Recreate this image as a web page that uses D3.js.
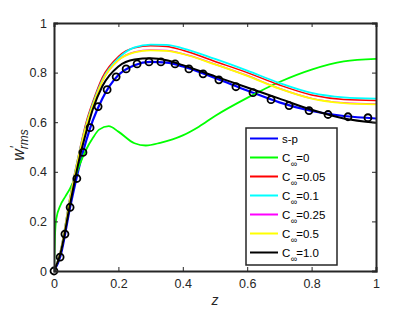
<!DOCTYPE html>
<html>
<head>
<meta charset="utf-8">
<script src="https://cdn.jsdelivr.net/npm/d3@7"></script>
<style>
  body { margin: 0; background: #fff; }
  svg text { font-family: "Liberation Sans", Arial, sans-serif; }
</style>
</head>
<body>
<div id="chart"></div>
<script>
// shared z grid for most curves
var zGrid = [0, 0.02, 0.05, 0.08, 0.1, 0.12, 0.15, 0.2, 0.25, 0.3, 0.35, 0.4, 0.5, 0.6, 0.7, 0.8, 0.9, 1.0];

var sp    = [0, 0.06, 0.257, 0.43, 0.525, 0.605, 0.695, 0.79, 0.83, 0.843, 0.84, 0.825, 0.778, 0.728, 0.68, 0.645, 0.625, 0.615];
var c005  = [0, 0.08, 0.30, 0.49, 0.60, 0.68, 0.78, 0.865, 0.90, 0.908, 0.905, 0.89, 0.845, 0.80, 0.75, 0.71, 0.692, 0.688];
var c01   = [0, 0.078, 0.295, 0.485, 0.59, 0.672, 0.77, 0.858, 0.902, 0.913, 0.912, 0.898, 0.855, 0.808, 0.758, 0.718, 0.70, 0.695];
var c025  = [0, 0.076, 0.29, 0.48, 0.585, 0.665, 0.765, 0.85, 0.883, 0.891, 0.889, 0.876, 0.834, 0.788, 0.736, 0.696, 0.678, 0.673];
var c05   = [0, 0.075, 0.29, 0.48, 0.585, 0.665, 0.765, 0.85, 0.882, 0.89, 0.888, 0.875, 0.833, 0.787, 0.735, 0.695, 0.677, 0.672];
var c10   = [0, 0.07, 0.27, 0.46, 0.56, 0.65, 0.745, 0.825, 0.853, 0.858, 0.85, 0.83, 0.785, 0.74, 0.695, 0.65, 0.615, 0.598];

// C_inf = 0 has its own sampling
var zGreen = [0, 0.003, 0.007, 0.02, 0.035, 0.05, 0.065, 0.08, 0.1, 0.12, 0.14, 0.17, 0.2, 0.25, 0.285, 0.33, 0.4, 0.45, 0.5, 0.6, 0.7, 0.8, 0.9, 1.0];
var c0     = [0, 0.14, 0.21, 0.265, 0.3, 0.333, 0.377, 0.43, 0.49, 0.535, 0.57, 0.584, 0.562, 0.515, 0.506, 0.517, 0.547, 0.582, 0.625, 0.698, 0.762, 0.812, 0.845, 0.855];

// circle markers
var zMark = [0, 0.019, 0.034, 0.05, 0.071, 0.09, 0.112, 0.137, 0.165, 0.193, 0.224, 0.258, 0.295, 0.332, 0.376, 0.419, 0.463, 0.512, 0.565, 0.618, 0.674, 0.730, 0.792, 0.851, 0.913, 0.975];
var vMark = [0, 0.056, 0.149, 0.257, 0.373, 0.478, 0.578, 0.663, 0.731, 0.783, 0.815, 0.835, 0.843, 0.843, 0.835, 0.815, 0.795, 0.771, 0.743, 0.719, 0.691, 0.667, 0.647, 0.631, 0.622, 0.618];

var xTicks = [0, 0.2, 0.4, 0.6, 0.8, 1];
var yTicks = [0, 0.2, 0.4, 0.6, 0.8, 1];

var series = [
  {name: "s-p",  sub: "",    z: zGrid,  v: sp,   color: "#0000ff", w: 2.2},
  {name: "C",    sub: "=0",    z: zGreen, v: c0,   color: "#00ff00", w: 1.8},
  {name: "C",    sub: "=0.05", z: zGrid,  v: c005, color: "#ff0000", w: 1.5},
  {name: "C",    sub: "=0.1",  z: zGrid,  v: c01,  color: "#00ffff", w: 1.8},
  {name: "C",    sub: "=0.25", z: zGrid,  v: c025, color: "#ff00ff", w: 1.5},
  {name: "C",    sub: "=0.5",  z: zGrid,  v: c05,  color: "#ffff00", w: 1.8},
  {name: "C",    sub: "=1.0",  z: zGrid,  v: c10,  color: "#000000", w: 2.0}
];

var width = 415, height = 312;
var margin = {top: 23, right: 39, bottom: 41, left: 54};
var w = width - margin.left - margin.right,
    h = height - margin.top - margin.bottom;

var svg = d3.select("#chart").append("svg")
    .attr("width", width)
    .attr("height", height);

var g = svg.append("g")
    .attr("transform", "translate(" + margin.left + "," + margin.top + ")");

var x = d3.scaleLinear().domain([0, 1]).range([0, w]);
var y = d3.scaleLinear().domain([0, 1]).range([h, 0]);

var line = d3.line()
    .x(function(d) { return x(d[0]); })
    .y(function(d) { return y(d[1]); })
    .curve(d3.curveMonotoneX);

var clip = g.append("clipPath").attr("id", "clip")
    .append("rect").attr("width", w).attr("height", h);

var plot = g.append("g").attr("clip-path", "url(#clip)");

series.forEach(function(s) {
  var pts = s.z.map(function(z, i) { return [z, s.v[i]]; });
  plot.append("path")
      .datum(pts)
      .attr("d", line)
      .attr("fill", "none")
      .attr("stroke", s.color)
      .attr("stroke-width", s.w)
      .attr("stroke-linejoin", "round");
});

g.selectAll("circle.mk")
    .data(zMark)
    .enter()
    .append("circle")
    .attr("class", "mk")
    .attr("cx", function(d) { return x(d); })
    .attr("cy", function(d, i) { return y(vMark[i]); })
    .attr("r", 3.5)
    .attr("fill", "none")
    .attr("stroke", "#000")
    .attr("stroke-width", 1.8);

// axes (ticks inside, box on)
var axisColor = "#262626";
var xb = d3.axisBottom(x).tickValues(xTicks).tickSize(-4).tickPadding(8)
    .tickFormat(function(d) { return d; });
var yl = d3.axisLeft(y).tickValues(yTicks).tickSize(-4).tickPadding(7)
    .tickFormat(function(d) { return d; });
var xt = d3.axisTop(x).tickValues(xTicks).tickSize(-4).tickFormat("");
var yr = d3.axisRight(y).tickValues(yTicks).tickSize(-4).tickFormat("");

function styleAxis(sel) {
  sel.select(".domain").attr("stroke", axisColor).attr("stroke-width", 2);
  sel.selectAll(".tick line").attr("stroke", axisColor).attr("stroke-width", 1);
  sel.selectAll(".tick text").attr("fill", axisColor).attr("font-size", 12.5)
     .attr("font-family", "Liberation Sans, Arial, sans-serif");
}

g.append("g").attr("transform", "translate(0," + h + ")").call(xb).call(styleAxis);
g.append("g").call(yl).call(styleAxis);
g.append("g").call(xt).call(styleAxis);
g.append("g").attr("transform", "translate(" + w + ",0)").call(yr).call(styleAxis);

// axis labels
svg.append("text")
    .attr("x", margin.left + w / 2)
    .attr("y", 305)
    .attr("text-anchor", "middle")
    .attr("font-family", "Liberation Serif, serif")
    .attr("font-style", "italic")
    .attr("font-size", 14)
    .attr("fill", axisColor)
    .text("z");

var ylab = svg.append("text")
    .attr("transform", "translate(24," + (margin.top + h / 2 - 2) + ") rotate(-90)")
    .attr("text-anchor", "middle")
    .attr("font-family", "Liberation Serif, serif")
    .attr("font-style", "italic")
    .attr("font-size", 16)
    .attr("fill", axisColor);
ylab.append("tspan").text("w");
ylab.append("tspan").attr("font-size", 12).attr("dy", -5).attr("dx", 0.5).text("\u2032");
ylab.append("tspan").attr("font-size", 12).attr("dy", 9).attr("dx", -3).text("rms");

// legend
var lx = 246, ly = 128, lw = 91, lh = 137;
var leg = svg.append("g");
leg.append("rect")
    .attr("x", lx).attr("y", ly).attr("width", lw).attr("height", lh)
    .attr("fill", "#fff").attr("stroke", axisColor).attr("stroke-width", 1.5);

series.forEach(function(s, i) {
  var yy = 138.5 + i * 19;
  leg.append("line")
      .attr("x1", 250).attr("x2", 278)
      .attr("y1", yy).attr("y2", yy)
      .attr("stroke", s.color).attr("stroke-width", 2);
  var t = leg.append("text")
      .attr("x", 282).attr("y", yy + 4)
      .attr("font-size", 11.5)
      .attr("fill", "#000");
  if (s.sub === "") {
    t.text(s.name);
  } else {
    t.append("tspan").text(s.name);
    t.append("tspan").attr("font-size", 9).attr("dy", 5).attr("dx", 0.5).text("\u221e");
    t.append("tspan").attr("dy", -5).attr("dx", -1).text(s.sub);
  }
});
</script>
</body>
</html>
